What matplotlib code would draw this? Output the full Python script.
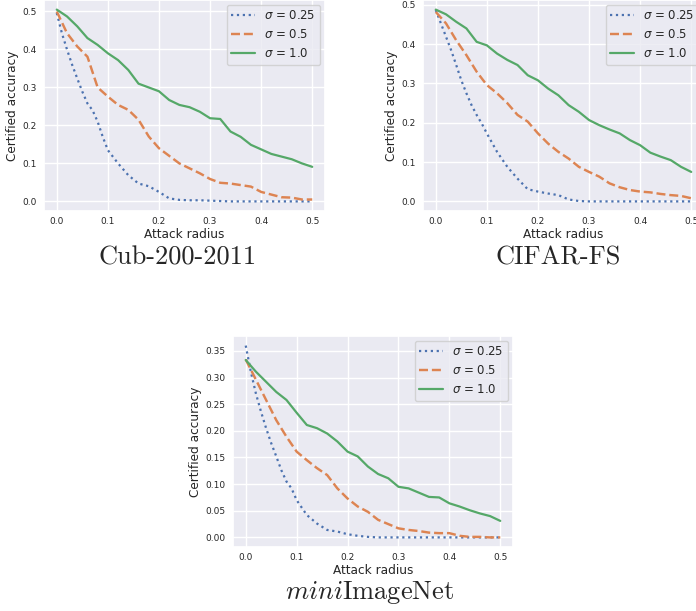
import numpy as np
import matplotlib
matplotlib.use("Agg")
import matplotlib.pyplot as plt
import seaborn as sns

sns.set_theme(style="darkgrid")
plt.rcParams['font.family'] = ['DejaVu Sans']

# attack radii at which the curves were read
r_fine = [0.0, 0.01, 0.02, 0.03, 0.04, 0.05, 0.06, 0.07, 0.08, 0.09, 0.10,
          0.12, 0.14, 0.16, 0.18, 0.20, 0.22, 0.24, 0.26, 0.28, 0.30,
          0.32, 0.34, 0.36, 0.38, 0.40, 0.42, 0.44, 0.46, 0.48, 0.50]
r_coarse = [0.0, 0.02, 0.04, 0.06, 0.08, 0.10, 0.12, 0.14, 0.16, 0.18, 0.20,
            0.22, 0.24, 0.26, 0.28, 0.30, 0.32, 0.34, 0.36, 0.38, 0.40,
            0.42, 0.44, 0.46, 0.48, 0.50]

# Cub-200-2011
cub_025 = [0.496, 0.443, 0.40, 0.36, 0.324, 0.289, 0.258, 0.24, 0.21, 0.17, 0.135,
           0.10, 0.069, 0.047, 0.04, 0.025, 0.008, 0.004, 0.003, 0.003, 0.002,
           0.001, 0.0, 0.0, 0.0, 0.0, 0.0, 0.0, 0.0, 0.0, 0.0]
cub_05 = [0.50, 0.443, 0.408, 0.381, 0.30, 0.276, 0.254, 0.241, 0.215, 0.171, 0.14,
          0.12, 0.10, 0.087, 0.074, 0.059, 0.049, 0.047, 0.043, 0.039, 0.025,
          0.018, 0.011, 0.01, 0.005, 0.005]
cub_10 = [0.505, 0.487, 0.461, 0.43, 0.412, 0.39, 0.372, 0.346, 0.31, 0.30, 0.29,
          0.267, 0.254, 0.248, 0.236, 0.219, 0.217, 0.184, 0.17, 0.149, 0.137,
          0.125, 0.118, 0.111, 0.10, 0.091]

# CIFAR-FS
cifar_025 = [0.487, 0.453, 0.419, 0.385, 0.347, 0.308, 0.275, 0.245, 0.22, 0.198, 0.173,
             0.126, 0.088, 0.058, 0.031, 0.025, 0.02, 0.016, 0.005, 0.001, 0.0,
             0.0, 0.0, 0.0, 0.0, 0.0, 0.0, 0.0, 0.0, 0.0, 0.0]
cifar_05 = [0.482, 0.453, 0.41, 0.372, 0.33, 0.296, 0.275, 0.25, 0.22, 0.203, 0.173,
            0.147, 0.126, 0.109, 0.088, 0.075, 0.063, 0.046, 0.036, 0.029, 0.025,
            0.023, 0.019, 0.016, 0.014, 0.008]
cifar_10 = [0.488, 0.476, 0.457, 0.44, 0.406, 0.397, 0.376, 0.36, 0.347, 0.321, 0.308,
            0.287, 0.27, 0.245, 0.228, 0.207, 0.194, 0.183, 0.173, 0.156, 0.143,
            0.124, 0.114, 0.105, 0.088, 0.075]

# miniImageNet
mini_025 = [0.36, 0.311, 0.27, 0.236, 0.205, 0.177, 0.152, 0.126, 0.105, 0.092, 0.07,
            0.042, 0.026, 0.014, 0.011, 0.006, 0.003, 0.001, 0.0, 0.0, 0.0,
            0.0, 0.0, 0.0, 0.0, 0.0, 0.0, 0.0, 0.0, 0.0, 0.0]
mini_05 = [0.334, 0.296, 0.258, 0.22, 0.189, 0.161, 0.145, 0.13, 0.117, 0.092, 0.073,
           0.058, 0.048, 0.033, 0.025, 0.017, 0.014, 0.012, 0.009, 0.008, 0.008,
           0.003, 0.001, 0.001, 0.0, 0.0]
mini_10 = [0.333, 0.311, 0.292, 0.273, 0.258, 0.234, 0.211, 0.205, 0.195, 0.18, 0.161,
           0.152, 0.133, 0.119, 0.111, 0.095, 0.092, 0.084, 0.076, 0.075, 0.064,
           0.058, 0.051, 0.045, 0.04, 0.031]

labels = [r"$\sigma$ = 0.25", r"$\sigma$ = 0.5", r"$\sigma$ = 1.0"]
colors = sns.color_palette("deep")

W, H = 696, 611
fig = plt.figure(figsize=(W / 100, H / 100), dpi=100)


def panel(box, s025, s05, s10):
    x0, y0, x1, y1 = box
    ax = fig.add_axes([x0 / W, 1 - y1 / H, (x1 - x0) / W, (y1 - y0) / H])
    ax.plot(r_fine, s025, ":", color=colors[0], lw=1.6, label=labels[0])
    ax.plot(r_coarse, s05, "--", color=colors[1], lw=1.75, label=labels[1])
    ax.plot(r_coarse, s10, "-", color=colors[2], lw=1.6, label=labels[2])
    ax.tick_params(axis="x", labelsize=6.5, pad=4, length=0)
    ax.tick_params(axis="y", labelsize=6.5, pad=5.5, length=0)
    ax.set_xlabel("Attack radius", fontsize=8.7, labelpad=1.5)
    ax.set_ylabel("Certified accuracy", fontsize=8.7, labelpad=2.5)
    ax.legend(loc="upper right", fontsize=8.5, borderaxespad=0.4)
    return ax


panel((44, 0, 325, 211), cub_025, cub_05, cub_10)
panel((423, 0, 704, 211), cifar_025, cifar_05, cifar_10)
panel((233, 336, 513, 547), mini_025, mini_05, mini_10)

fig.text(178 / W, 1 - 258 / H, "Cub-200-2011", family="cmr10", fontsize=19,
         ha="center", va="center")
fig.text(558 / W, 1 - 258 / H, "CIFAR-FS", family="cmr10", fontsize=19,
         ha="center", va="center")
fig.text(370 / W, 1 - 593 / H, r"$mini\mathrm{ImageNet}$", math_fontfamily="cm",
         fontsize=19, ha="center", va="center")

fig.savefig("out.png", dpi=100)
